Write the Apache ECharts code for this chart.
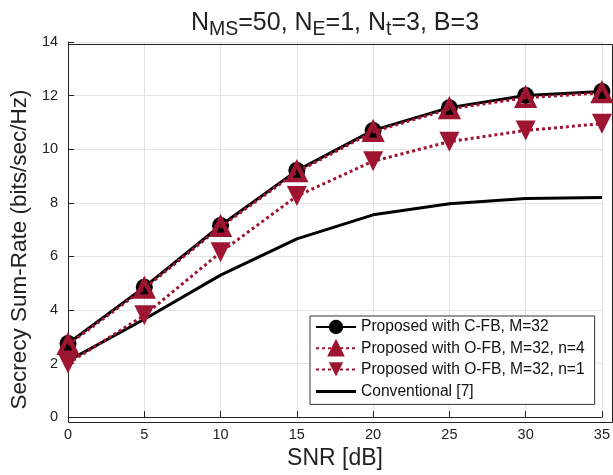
<!DOCTYPE html>
<html><head><meta charset="utf-8">
<script src="https://cdn.jsdelivr.net/npm/echarts@6/dist/echarts.min.js"></script>
<style>html,body{margin:0;padding:0;background:#fff}#c{width:613px;height:475px}</style>
</head><body><div id="c"></div>
<script>
const snr = [0, 5, 10, 15, 20, 25, 30, 35];
const cfb = [2.75, 4.85, 7.15, 9.2, 10.7, 11.55, 12.0, 12.15];
const ofb4 = [2.7, 4.8, 7.1, 9.15, 10.65, 11.5, 11.92, 12.1];
const ofb1 = [2.0, 3.8, 6.15, 8.25, 9.55, 10.28, 10.7, 10.95];
const conv = [2.1, 3.65, 5.3, 6.65, 7.55, 7.96, 8.16, 8.2];
const names = ['Proposed with C-FB, M=32', 'Proposed with O-FB, M=32, n=4', 'Proposed with O-FB, M=32, n=1', 'Conventional [7]'];
const red = '#9d1530';
const font = 'Liberation Sans, Arial, Helvetica, sans-serif';
const pts = a => snr.map((x, i) => [x, a[i]]);
const chart = echarts.init(document.getElementById('c'));
chart.setOption({
  animation: false,
  textStyle: { fontFamily: font },
  title: {
    text: '{n|N}{s|MS}{n|=50, N}{s|E}{n|=1, N}{s|t}{n|=3, B=3}',
    left: 330, top: 1, textAlign: 'center',
    textStyle: { rich: {
      n: { fontSize: 25, color: '#222', fontFamily: font, fontWeight: 'normal' },
      s: { fontSize: 19.5, color: '#222', fontFamily: font, fontWeight: 'normal', verticalAlign: 'bottom', padding: [14, 0, 0, 0] }
    } }
  },
  grid: { left: 66, right: 3, top: 42, bottom: 55 },
  xAxis: {
    type: 'value', min: 0, max: 35, interval: 5,
    name: 'SNR [dB]', nameLocation: 'middle', nameGap: 27,
    nameTextStyle: { fontSize: 23, color: '#222', fontFamily: font },
    axisLine: { lineStyle: { color: '#222', width: 1 } },
    axisTick: { inside: true, length: 6, lineStyle: { color: '#222' } },
    axisLabel: { fontSize: 14.5, color: '#222', margin: 10, fontFamily: font },
    splitLine: { lineStyle: { color: '#e3e3e3', width: 1 } }
  },
  yAxis: {
    type: 'value', min: 0, max: 14, interval: 2,
    name: 'Secrecy Sum-Rate (bits/sec/Hz)', nameLocation: 'middle', nameGap: 31,
    nameTextStyle: { fontSize: 22.5, color: '#222', fontFamily: font, padding: [0, 40, 0, 0] },
    axisLine: { show: true, lineStyle: { color: '#222', width: 1 } },
    axisTick: { show: true, inside: true, length: 6, lineStyle: { color: '#222' } },
    axisLabel: { fontSize: 14.5, color: '#222', margin: 10, fontFamily: font },
    splitLine: { lineStyle: { color: '#e3e3e3', width: 1 } }
  },
  legend: {
    orient: 'vertical', left: 310, top: 316,
    backgroundColor: '#fff', borderColor: '#333', borderWidth: 1,
    padding: [3, 10, 4, 5], itemGap: 5, itemWidth: 40, itemHeight: 18,
    textStyle: { fontSize: 15.6, color: '#111', fontFamily: font },
    data: [names[0], { name: names[1], itemStyle: { color: red } }, names[2],
      { name: names[3], icon: 'path://M0,0h0.01v18h-0.01z M0,7.5h40v3h-40z' }]
  },
  graphic: [{
    type: 'rect', left: 66, top: 42, shape: { width: 544, height: 378 }, silent: true,
    style: { fill: 'none', stroke: '#222', lineWidth: 1 }, z: 1
  }],
  series: [
    { name: names[0], type: 'line', data: pts(cfb), symbol: 'circle', symbolSize: 17,
      itemStyle: { color: '#000' }, lineStyle: { color: '#000', width: 3 }, z: 3 },
    { name: names[1], type: 'line', data: pts(ofb4), symbol: 'triangle', symbolSize: 16,
      itemStyle: { color: 'rgba(0,0,0,0)', borderColor: red, borderWidth: 4.5 },
      lineStyle: { color: red, width: 3, type: [3, 3] }, z: 4 },
    { name: names[2], type: 'line', data: pts(ofb1), symbol: 'triangle', symbolRotate: 180, symbolSize: 20,
      itemStyle: { color: red }, lineStyle: { color: red, width: 3, type: [3, 3] }, z: 4 },
    { name: names[3], type: 'line', data: pts(conv), symbol: 'none',
      itemStyle: { color: '#000' }, lineStyle: { color: '#000', width: 3 }, z: 3 }
  ]
});
</script></body></html>
